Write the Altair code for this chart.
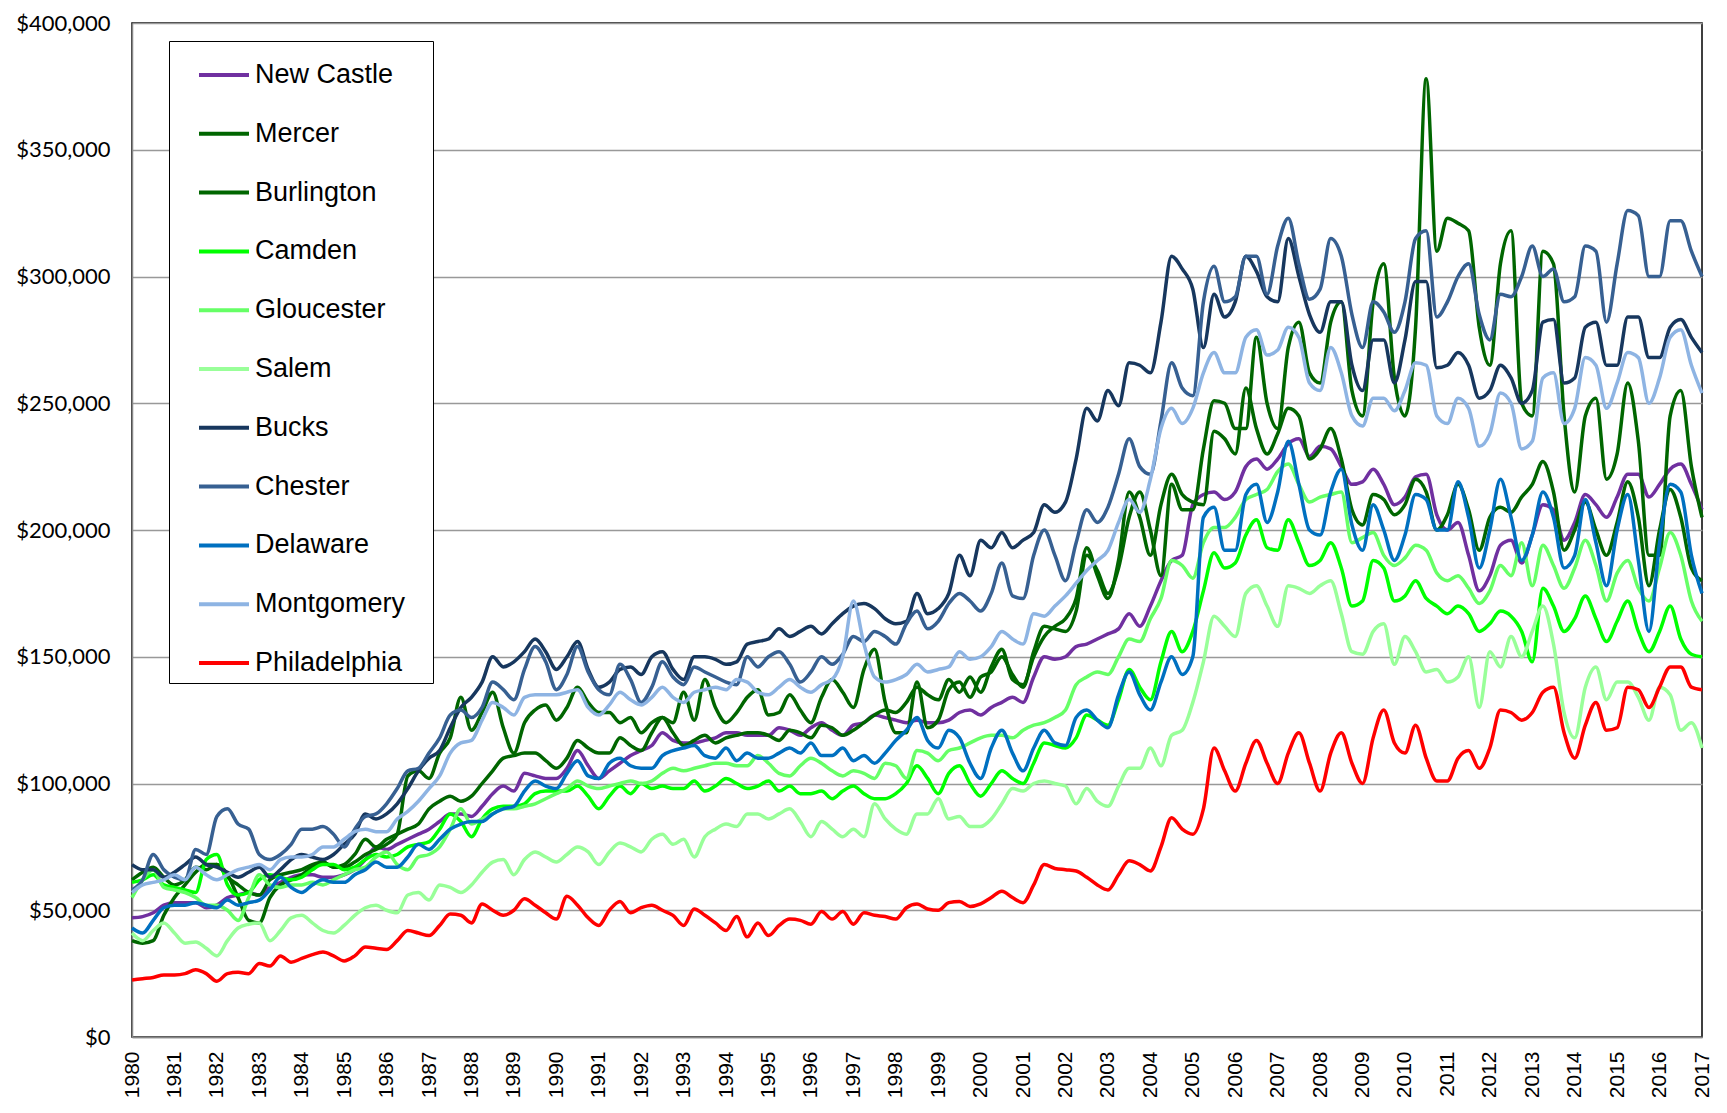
import altair as alt
import pandas as pd

SERIES = ["New Castle", "Mercer", "Burlington", "Camden", "Gloucester", "Salem",
          "Bucks", "Chester", "Delaware", "Montgomery", "Philadelphia"]
COLORS = ["#7030A0", "#006600", "#006600", "#00FF00", "#66FF66", "#99FF99",
          "#17375E", "#376092", "#0070C0", "#8EB4E3", "#FF0000"]

# quarterly observations, 1980 Q1 .. 2017 Q1 (values in $ thousands)
QUARTERS = [1980 + q / 4 for q in range(149)]

NEW_CASTLE = [
    47, 47.5, 49, 52, 53, 53, 53, 51, 52, 55, 56, 57, 56, 59, 61, 63,
    64, 64, 63, 63, 64, 66, 70, 75, 74, 76, 78, 80, 82, 85, 88, 88,
    87, 91, 96, 99, 97, 104, 103, 102, 102, 106, 113, 107, 102, 105, 108, 111,
    113, 115, 120, 117, 116, 116, 117, 118, 120, 120, 119, 119, 119, 122, 121, 119,
    122, 124, 121, 119, 123, 124, 127, 126, 125, 124, 125, 124, 124, 125, 128, 129,
    127, 130, 132, 134, 132, 142, 150, 149, 150, 154, 155, 157, 159, 161, 167, 162,
    170, 180, 188, 190, 210, 214, 215, 212, 215, 225, 228, 224, 228, 234, 236, 229,
    233, 232, 225, 218, 219, 224, 218, 210, 213, 221, 222, 206, 200, 203, 190, 176,
    182, 194, 196, 187, 198, 210, 208, 196, 203, 214, 210, 205, 213, 222, 222, 213,
    218, 224, 226, 218, 208]

MERCER = [
    38, 37, 38, 48, 55, 60, 65, 68, 68, 64, 55, 46, 45, 55, 60, 62,
    64, 67, 69, 67, 67, 69, 72, 74, 76, 80, 103, 105, 102, 112, 118, 134,
    121, 128, 136, 122, 112, 124, 129, 131, 125, 130, 138, 132, 128, 128, 124, 126,
    120, 124, 126, 124, 136, 125, 141, 130, 124, 128, 134, 137, 127, 128, 135, 129,
    124, 134, 141, 136, 130, 145, 153, 132, 120, 120, 140, 122, 125, 137, 140, 134,
    142, 144, 150, 143, 138, 152, 162, 161, 160, 168, 190, 184, 175, 185, 205, 215,
    200, 182, 218, 208, 208, 232, 251, 250, 240, 240, 276, 250, 240, 272, 282, 262,
    258, 282, 290, 255, 245, 290, 305, 260, 245, 280, 378, 310, 323, 321, 318, 280,
    265, 305, 318, 250, 245, 310, 305, 245, 215, 245, 252, 220, 230, 258, 235, 190,
    190, 245, 255, 225, 205]

BURLINGTON = [
    62, 65, 67, 63, 60, 62, 67, 66, 68, 63, 60, 57, 56, 62, 64, 65,
    66, 68, 69, 67, 68, 72, 78, 75, 78, 80, 82, 84, 90, 93, 95, 93,
    95, 100, 105, 110, 111, 112, 112, 109, 106, 110, 117, 114, 112, 112, 118, 115,
    113, 120, 126, 120, 115, 117, 119, 116, 118, 119, 120, 120, 119, 117, 121, 120,
    118, 123, 122, 119, 121, 124, 127, 129, 128, 132, 138, 135, 133, 141, 136, 142,
    136, 146, 153, 141, 139, 150, 158, 162, 165, 173, 193, 182, 173, 188, 215, 205,
    190, 210, 222, 214, 211, 210, 239, 236, 230, 256, 240, 230, 238, 248, 245, 228,
    232, 240, 228, 208, 202, 214, 212, 206, 210, 220, 215, 200, 206, 218, 208, 192,
    205, 209, 207, 213, 218, 227, 215, 192, 200, 211, 200, 190, 203, 219, 205, 178,
    200, 216, 205, 185, 180]

CAMDEN = [
    61, 62, 64, 60, 59, 58, 57, 70, 72, 60, 56, 57, 62, 64, 63, 62,
    63, 66, 68, 68, 66, 67, 70, 72, 71, 72, 75, 76, 77, 82, 88, 85,
    79, 86, 90, 91, 91, 92, 96, 97, 97, 97, 99, 95, 90, 95, 99, 96,
    100, 98, 99, 98, 98, 101, 97, 99, 102, 100, 98, 99, 101, 97, 99, 96,
    96, 97, 94, 97, 99, 96, 94, 94, 96, 100, 107, 102, 96, 104, 107, 100,
    95, 100, 105, 102, 100, 108, 116, 115, 114, 118, 127, 125, 123, 133, 145, 138,
    133, 148, 160, 152, 160, 176, 191, 185, 187, 198, 204, 193, 192, 204, 195, 186,
    188, 195, 185, 170, 172, 188, 185, 172, 174, 180, 173, 170, 167, 170, 167, 160,
    163, 168, 166, 160, 148, 177, 170, 160, 165, 174, 165, 156, 164, 172, 160, 152,
    160, 170, 157, 151, 150]

GLOUCESTER = [
    55, 62, 66, 59, 58, 57, 55, 52, 52, 50, 46, 55, 64, 60, 59, 60,
    60, 61, 60, 62, 64, 66, 67, 71, 73, 68, 66, 71, 72, 75, 82, 90,
    84, 86, 88, 90, 90, 91, 92, 94, 96, 98, 101, 99, 98, 99, 100, 101,
    100, 101, 104, 106, 105, 106, 107, 108, 108, 107, 107, 111, 108, 104, 103, 107,
    110, 108, 105, 103, 105, 104, 102, 108, 107, 102, 113, 112, 109, 113, 114, 116,
    118, 119, 119, 118, 121, 123, 124, 126, 129, 139, 142, 144, 143, 150, 157, 156,
    165, 173, 188, 186, 181, 195, 201, 201, 205, 212, 214, 216, 223, 226, 218, 211,
    213, 214, 215, 195, 197, 199, 190, 186, 189, 194, 192, 183, 180, 182, 177, 171,
    176, 186, 182, 195, 178, 194, 186, 177, 185, 196, 186, 172, 183, 188, 177, 172,
    185, 199, 190, 172, 164]

SALEM = [
    41, 38, 42, 45, 41, 37, 37.5, 35, 32, 38, 43, 44.5, 45, 38, 42, 47,
    48, 45, 42, 41, 44, 48, 51, 52, 50, 49, 56, 57, 54, 60, 59, 57,
    60, 65, 69, 70, 64, 70, 73, 71, 69, 72, 75, 73, 68, 73, 76.5, 75,
    73, 78, 80, 76, 78, 71, 79, 82, 84, 83, 88, 88, 86, 88, 90, 85,
    79, 85, 82, 79, 82, 79, 92, 86, 82, 80, 88, 88, 94, 86, 87, 83,
    83, 86, 92, 98, 97, 100, 101, 100, 99, 92, 98, 93, 91, 99, 106, 106,
    114, 107, 119, 121, 132, 148, 166, 162, 158, 175, 178, 170, 162, 178, 177, 175,
    178, 180, 167, 152, 151, 160, 163, 147, 158, 152, 144, 145, 140, 142, 150, 130,
    152, 146, 158, 150, 160, 170, 155, 128, 118, 138, 146, 133, 140, 140, 134, 125,
    138, 135, 121, 124, 114]

BUCKS = [
    68, 66, 66, 63, 65, 68, 71, 68, 67, 65, 63, 65, 67, 63, 66, 70,
    72, 71, 70, 72, 76, 80, 88, 86, 88, 92, 98, 105, 110, 113, 122, 130,
    134, 140, 150, 146, 148, 152, 157, 152, 145, 150, 156, 145, 138, 140, 145, 146,
    143, 150, 152, 145, 141, 150, 150, 149, 147, 148, 155, 156, 157, 161, 158, 160,
    162, 159, 163, 167, 170, 171, 169, 165, 163, 164, 175, 167, 169, 175, 190, 182,
    196, 193, 199, 193, 196, 199, 210, 207, 211, 228, 248, 243, 255, 249, 266, 265,
    262, 282, 308, 303, 295, 272, 293, 284, 290, 308, 302, 292, 290, 315, 300, 285,
    278, 290, 290, 265, 255, 275, 275, 258, 275, 298, 298, 264, 265, 270, 265, 252,
    255, 265, 260, 250, 255, 282, 283, 258, 260, 280, 282, 265, 265, 284, 284, 268,
    268, 280, 283, 276, 270]

CHESTER = [
    58, 62, 72, 66, 63, 62, 74, 72, 87, 90, 84, 82, 72, 70, 72, 76,
    82, 82, 83, 80, 75, 82, 87, 88, 92, 98, 105, 106, 112, 118, 127, 129,
    126, 130, 140, 137, 133, 145, 154, 148, 137, 143, 154, 144, 137, 135, 147, 141,
    132, 138, 148, 142, 139, 146, 144, 142, 140, 139, 150, 146, 150, 152, 147, 140,
    144, 150, 147, 151, 158, 156, 160, 158, 155, 163, 168, 161, 164, 171, 175, 172,
    168, 175, 187, 174, 173, 190, 200, 190, 180, 195, 208, 203, 209, 222, 236, 225,
    222, 243, 266, 256, 253, 290, 304, 290, 292, 308, 308, 293, 312, 323, 305, 291,
    295, 315, 308, 285, 272, 290, 286, 278, 290, 315, 318, 284, 290, 300, 305, 285,
    275, 293, 292, 300, 312, 300, 303, 290, 292, 312, 310, 282, 305, 326, 324, 300,
    300, 322, 322, 310, 300]

DELAWARE = [
    43, 41, 46, 51, 52, 52, 53, 52, 51, 54, 52, 53, 54, 58, 63, 59,
    57, 60, 62, 61, 61, 64, 66, 69, 67, 67, 71, 76, 74, 78, 82, 84,
    85, 85, 88, 90, 91, 97, 101, 99, 98, 104, 109, 103, 102, 108, 110, 107,
    106, 106, 111, 113, 114, 115, 111, 110, 114, 109, 112, 110, 110, 112, 114, 112,
    116, 111, 111, 114, 109, 111, 108, 112, 117, 121, 126, 117, 114, 121, 118, 108,
    102, 114, 121, 112, 105, 114, 121, 116, 115, 126, 129, 125, 122, 135, 144, 135,
    129, 140, 150, 143, 150, 205, 209, 192, 192, 214, 218, 203, 215, 235, 218, 200,
    198, 215, 224, 202, 192, 210, 200, 188, 198, 214, 212, 200, 200, 219, 205, 185,
    200, 220, 205, 188, 198, 215, 205, 185, 190, 212, 195, 178, 200, 214, 188, 160,
    195, 218, 215, 190, 175]

MONTGOMERY = [
    57, 60, 61, 62, 64, 62, 67, 64, 62, 64, 66, 67, 68, 66, 70, 71,
    71, 72, 75, 75, 78, 81, 82, 81, 81, 86, 89, 93, 98, 103, 112, 116,
    117, 125, 132, 130, 127, 134, 135, 135, 135, 136, 137, 130, 127, 131, 136, 133,
    131, 134, 138, 134, 132, 136, 137, 138, 137, 141, 140, 136, 135, 138, 141, 138,
    136, 139, 141, 150, 172, 155, 142, 140, 141, 143, 147, 144, 145, 146, 152, 149,
    150, 154, 160, 157, 155, 167, 166, 170, 174, 179, 184, 188, 192, 203, 212, 207,
    220, 240, 248, 242, 248, 262, 270, 262, 262, 276, 279, 269, 271, 280, 276, 258,
    255, 272, 262, 245, 241, 252, 252, 247, 255, 266, 265, 245, 242, 252, 248, 233,
    238, 254, 250, 232, 235, 260, 262, 242, 248, 268, 265, 248, 258, 270, 268, 250,
    260, 276, 279, 265, 254]

PHILADELPHIA = [
    22.5, 23, 23.5, 24.5, 24.5, 25, 26.5, 25, 22, 25, 25.5, 25, 29, 28, 32, 29.5,
    31, 32.5, 33.5, 32, 30, 32, 35.5, 35, 34.5, 38, 42, 41, 40, 44, 48.5, 48,
    45, 52.5, 50, 48, 50, 54.5, 52, 49, 46.5, 55.5, 52, 47, 44, 50, 53.5, 49,
    51, 52, 50, 48, 44, 50.5, 48, 45, 42, 47.5, 39.5, 45, 40, 44, 46.5, 46,
    44.5, 49.5, 46.5, 49.5, 44.5, 49, 48, 47.5, 46.5, 51, 52.5, 50.5, 50, 53, 53.5, 51.5,
    52.5, 55, 57.5, 55, 53, 60, 68, 66.5, 66, 65.5, 63, 60, 58, 64, 69.5, 68,
    65.5, 75, 86.5, 82, 80, 90, 114, 105, 97, 108, 117, 108, 100, 112, 120, 108,
    97, 112, 120, 108, 100, 118, 129, 116, 112, 123, 110, 101, 101, 110, 113, 106,
    114, 129, 128, 125, 128, 136, 138, 120, 110, 123, 132, 121, 122, 138, 137, 130,
    138, 146, 146, 138, 137]

ALL = [NEW_CASTLE, MERCER, BURLINGTON, CAMDEN, GLOUCESTER, SALEM,
       BUCKS, CHESTER, DELAWARE, MONTGOMERY, PHILADELPHIA]

rows = []
for name, vals in zip(SERIES, ALL):
    assert len(vals) == len(QUARTERS), (name, len(vals))
    for t, v in zip(QUARTERS, vals):
        rows.append({"series": name, "t": t, "price": v * 1000})
df = pd.DataFrame(rows)

YEAR_TICKS = list(range(1980, 2018))
PRICE_TICKS = list(range(0, 400001, 50000))

# blank (non-whitespace) padding so the legend frame reaches the reference width
PAD = "\u2800"

chart = alt.Chart(df).mark_line(strokeWidth=3.5, interpolate="monotone").encode(
    x=alt.X("t:Q",
            scale=alt.Scale(domain=[1980, 2017], nice=False, zero=False),
            axis=alt.Axis(values=YEAR_TICKS, format="d", labelAngle=-90,
                          labelFont="Liberation Sans", labelFontSize=21,
                          labelColor="black", ticks=False, grid=False,
                          domainColor="#888888", domainWidth=1.5,
                          labelPadding=14, labelOverlap=False, title=None)),
    y=alt.Y("price:Q",
            scale=alt.Scale(domain=[0, 400000], nice=False),
            axis=alt.Axis(values=PRICE_TICKS, format="$,d",
                          labelFont="Lato", labelFontSize=22, labelColor="black",
                          ticks=False, gridColor="#999999", gridWidth=1.5,
                          domainColor="#888888", domainWidth=1.5,
                          labelPadding=22, title=None)),
    color=alt.Color("series:N",
                    scale=alt.Scale(domain=SERIES, range=COLORS),
                    legend=alt.Legend(title=None, orient="none",
                                      legendX=37, legendY=18,
                                      direction="vertical",
                                      symbolType="stroke", symbolSize=2500,
                                      symbolStrokeWidth=4, symbolOffset=21,
                                      labelFont="Liberation Sans",
                                      labelFontSize=27, labelColor="black",
                                      labelOffset=4, labelLimit=500,
                                      labelExpr="datum.label + '" + PAD + "'",
                                      fillColor="white", strokeColor="black",
                                      padding=7, rowPadding=18.8)),
).properties(
    width=1570, height=1014,
    padding={"left": 124, "top": 15, "right": 15, "bottom": 60},
    autosize=alt.AutoSizeParams(type="none"),
).configure_view(stroke="black", strokeWidth=1.5)

chart.save("out.html", embed_options={"renderer": "svg", "actions": False})
